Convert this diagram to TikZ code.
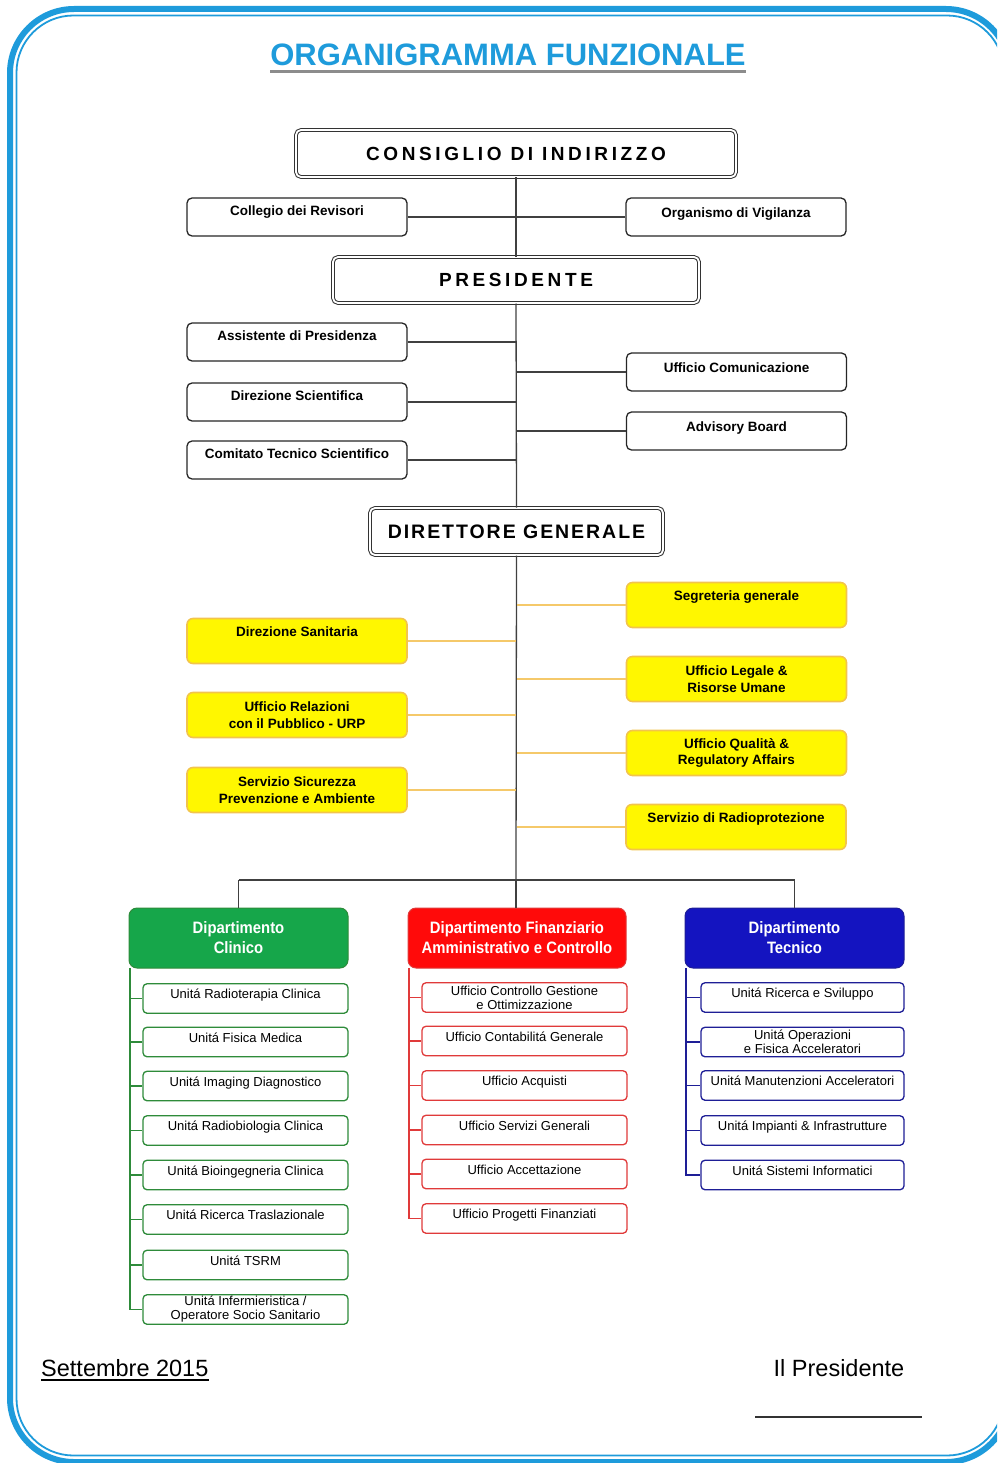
\documentclass[tikz,border=0pt]{standalone}
\usepackage{fontspec}
\usepackage{graphicx}
\setmainfont{Liberation Sans}
\newfontfamily\spacedA[LetterSpace=19]{Liberation Sans}
\newfontfamily\spacedB[LetterSpace=10]{Liberation Sans}
\newfontfamily\narrowA[FakeStretch=0.9]{Liberation Sans}
\definecolor{borderblue}{HTML}{1E9BDB}
\definecolor{titleblue}{HTML}{1E9BDB}
\definecolor{yfill}{HTML}{FFF700}
\definecolor{ydraw}{HTML}{F2C44C}
\definecolor{yline}{HTML}{F5C96A}
\definecolor{gfill}{HTML}{16A64A}
\definecolor{gline}{HTML}{2E8B3A}
\definecolor{rfill}{HTML}{FF0A0A}
\definecolor{rline}{HTML}{E03A3A}
\definecolor{bfill}{HTML}{1414C0}
\definecolor{bline}{HTML}{1E1E96}
\begin{document}
\begin{tikzpicture}[x=1pt,y=-1pt,
  mainbox/.style={draw=black!80, double=white, double distance=1.8pt, line width=1pt,
    rounded corners=5pt, fill=white, inner sep=0pt},
  wbox/.style={draw=black!85, line width=1.3pt, rounded corners=5pt, fill=white,
    minimum width=220pt, minimum height=38pt, inner sep=0pt,
    font=\fontsize{13.5}{15}\selectfont\bfseries, text height=10pt},
  wl/.style={wbox, text depth=13pt},
  wr/.style={wbox, text depth=9pt},
  ybox/.style={draw=ydraw, line width=1.6pt, rounded corners=6pt, fill=yfill,
    minimum width=220pt, minimum height=45pt, inner sep=0pt, align=center,
    font=\fontsize{13.5}{16.5}\selectfont\bfseries},
  yone/.style={ybox, text height=10pt, text depth=19pt},
  dept/.style={rounded corners=8pt, minimum width=219pt, minimum height=60pt,
    inner sep=0pt, text=white, align=center, line width=1pt,
    font=\fontsize{16.5}{20}\selectfont\narrowA\bfseries},
  sub/.style={rounded corners=4pt, minimum width=205pt, minimum height=29.5pt,
    inner sep=0pt, fill=white, line width=1.3pt, align=center,
    font=\fontsize{13}{14}\selectfont},
  sub1/.style={sub, text height=9.3pt, text depth=9.3pt},
  conn/.style={draw=black!75, line width=1.3pt},
  yconn/.style={draw=yline, line width=2pt},
  tree/.style={line width=1.6pt},
]
\useasboundingbox (0,0) rectangle (997,1463);
% border
\begin{scope}
  \clip (0,0) rectangle (997,1463);
  \draw[borderblue, line width=6pt, rounded corners=64pt] (10,9) rectangle (1010,1462);
  \draw[borderblue, line width=1.8pt, rounded corners=57pt] (16.5,15.5) rectangle (1004,1455.5);
\end{scope}

% title
\node[anchor=base, text=titleblue, font=\fontsize{31}{34}\selectfont\bfseries, inner sep=0pt]
  (title) at (508,66) {ORGANIGRAMMA FUNZIONALE};
\draw[black!45, line width=2.5pt] ([yshift=-5.5pt]title.base west) -- ([yshift=-5.5pt]title.base east);

% main boxes
\node[mainbox, minimum width=440pt, minimum height=47pt, font=\fontsize{19}{22}\selectfont\spacedA\bfseries]
  (ci) at (516,153.5) {CONSIGLIO DI INDIRIZZO};
\node[mainbox, minimum width=366pt, minimum height=46pt, font=\fontsize{19}{22}\selectfont\spacedA\bfseries]
  (pr) at (516,280) {PRESIDENTE};
\node[mainbox, minimum width=293pt, minimum height=47pt, font=\fontsize{19.5}{22}\selectfont\spacedB\bfseries]
  (dg) at (516.5,531.5) {DIRETTORE GENERALE};

% white boxes
\node[wl] (cr) at (297,217) {Collegio dei Revisori};
\node[wr] (ov) at (736,217) {Organismo di Vigilanza};
\node[wl] (ap) at (297,342) {Assistente di Presidenza};
\node[wl] (dsc) at (297,402) {Direzione Scientifica};
\node[wl] (ct) at (297,460) {Comitato Tecnico Scientifico};
\node[wr] (uc) at (736.5,372) {Ufficio Comunicazione};
\node[wr] (ab) at (736.5,431) {Advisory Board};

% yellow boxes
\node[yone] (sg) at (736.5,605) {Segreteria generale};
\node[yone] (dsan) at (297,641) {Direzione Sanitaria};
\node[ybox] (ul) at (736.5,679) {Ufficio Legale \&\\Risorse Umane};
\node[ybox] (urp) at (297,715) {Ufficio Relazioni\\con il Pubblico - URP};
\node[ybox] (uq) at (736.5,753) {Ufficio Qualità \&\\Regulatory Affairs};
\node[ybox] (ssp) at (297,790) {Servizio Sicurezza\\Prevenzione e Ambiente};
\node[yone] (rp) at (736,827) {Servizio di Radioprotezione};

% departments
\node[dept, fill=gfill, draw=gline] (gd) at (238.5,938) {Dipartimento\\Clinico};
\node[dept, fill=rfill, draw=rline, minimum width=218pt] (rd) at (517,938) {Dipartimento Finanziario\\Amministrativo e Controllo};
\node[dept, fill=bfill, draw=bline] (bd) at (794.5,938) {Dipartimento\\Tecnico};

% green sub-units
\node[sub1, draw=gline] (g1) at (245.5,998.5) {Unitá Radioterapia Clinica};
\node[sub1, draw=gline] (g2) at (245.5,1042) {Unitá Fisica Medica};
\node[sub1, draw=gline] (g3) at (245.5,1086) {Unitá Imaging Diagnostico};
\node[sub1, draw=gline] (g4) at (245.5,1130.5) {Unitá Radiobiologia Clinica};
\node[sub1, draw=gline] (g5) at (245.5,1175) {Unitá Bioingegneria Clinica};
\node[sub1, draw=gline] (g6) at (245.5,1219.5) {Unitá Ricerca Traslazionale};
\node[sub1, draw=gline] (g7) at (245.5,1265) {Unitá TSRM};
\node[sub, draw=gline] (g8) at (245.5,1309.5) {Unitá Infermieristica /\\Operatore Socio Sanitario};

% red sub-units
\node[sub, draw=rline] (r1) at (524.5,997.5) {Ufficio Controllo Gestione\\e Ottimizzazione};
\node[sub1, draw=rline] (r2) at (524.5,1041) {Ufficio Contabilitá Generale};
\node[sub1, draw=rline] (r3) at (524.5,1085.5) {Ufficio Acquisti};
\node[sub1, draw=rline] (r4) at (524.5,1130) {Ufficio Servizi Generali};
\node[sub1, draw=rline] (r5) at (524.5,1174) {Ufficio Accettazione};
\node[sub1, draw=rline] (r6) at (524.5,1218.5) {Ufficio Progetti Finanziati};

% blue sub-units
\node[sub1, draw=bline, minimum width=203pt] (b1) at (802.5,997.5) {Unitá Ricerca e Sviluppo};
\node[sub, draw=bline, minimum width=203pt] (b2) at (802.5,1042) {Unitá Operazioni\\e Fisica Acceleratori};
\node[sub1, draw=bline, minimum width=203pt] (b3) at (802.5,1085.5) {Unitá Manutenzioni Acceleratori};
\node[sub1, draw=bline, minimum width=203pt] (b4) at (802.5,1130.5) {Unitá Impianti \& Infrastrutture};
\node[sub1, draw=bline, minimum width=203pt] (b5) at (802.5,1175) {Unitá Sistemi Informatici};

% central spine and branches
\coordinate (bus) at (516,880);
\coordinate (busl) at (238.5,880);
\coordinate (busr) at (794.5,880);
\draw[conn] (ci.south) -- (pr.north);
\draw[conn] (pr.south) -- (dg.north);
\draw[conn] (dg.south) -- (bus);
\draw[conn] (cr.east) -- (ov.west);
\foreach \n in {ap,dsc,ct} \draw[conn] (\n.east) -- (\n.east -| pr.south);
\foreach \n in {uc,ab} \draw[conn] (\n.west) -- (\n.west -| pr.south);
\foreach \n in {dsan,urp,ssp} \draw[yconn] (\n.east) -- ([xshift=-0.7pt]\n.east -| dg.south);
\foreach \n in {sg,ul,uq,rp} \draw[yconn] (\n.west) -- ([xshift=0.7pt]\n.west -| dg.south);
\draw[conn] (busl) -- (busr);
\draw[conn] (busl) -- (gd.north);
\draw[conn] (bus) -- (bus |- rd.north);
\draw[conn] (busr) -- (bd.north);

% trees
\coordinate (gt) at (130,968);
\coordinate (rt) at (409,968);
\coordinate (bt) at (686,968);
\draw[gline, tree] (gt) -- (gt |- g8.west) -- (g8.west);
\foreach \n in {g1,g2,g3,g4,g5,g6,g7} \draw[gline, tree] (gt |- \n.west) -- (\n.west);
\draw[rline, tree] (rt) -- (rt |- r6.west) -- (r6.west);
\foreach \n in {r1,r2,r3,r4,r5} \draw[rline, tree] (rt |- \n.west) -- (\n.west);
\draw[bline, tree] (bt) -- (bt |- b5.west) -- (b5.west);
\foreach \n in {b1,b2,b3,b4} \draw[bline, tree] (bt |- \n.west) -- (\n.west);

% footer
\node[anchor=base west, inner sep=0pt, font=\fontsize{23.5}{26}\selectfont]
  (date) at (41,1376) {Settembre 2015};
\draw[black, line width=1.4pt] ([yshift=-4pt]date.base west) -- ([yshift=-4pt]date.base east);
\node[anchor=base, inner sep=0pt, font=\fontsize{23.5}{26}\selectfont]
  (ilp) at (839,1376) {Il Presidente};
\draw[black!80, line width=2pt] (755,1417) -- (922,1417);
\end{tikzpicture}
\end{document}
